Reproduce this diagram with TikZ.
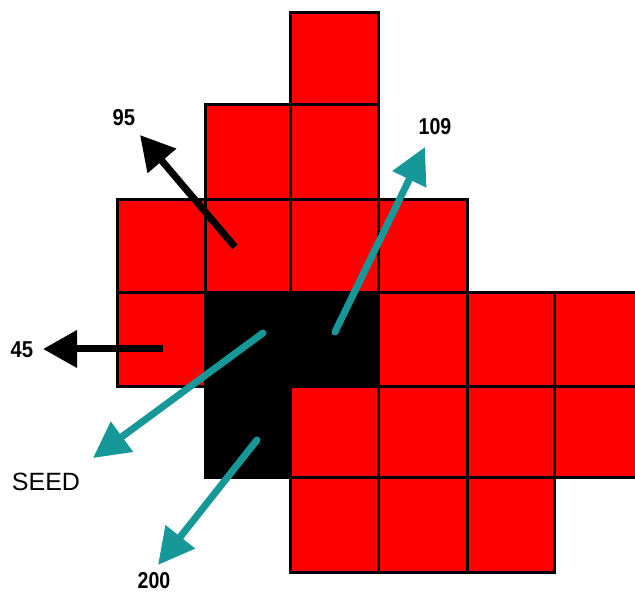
\documentclass[tikz,border=0pt]{standalone}
\usepackage{fontspec}
\setmainfont{Liberation Sans}
\usetikzlibrary{arrows.meta}
\definecolor{cellred}{RGB}{255,0,0}
\definecolor{teal}{RGB}{22,152,152}
\tikzset{
  redcell/.style={fill=cellred,draw=black,line width=3pt},
  blackcell/.style={fill=black,draw=black,line width=3pt},
  blackarrow/.style={draw=black,line width=7pt,-{Triangle[length=34pt,width=36pt]}},
  tealarrow/.style={draw=teal,line width=7pt,line cap=round,-{Triangle[length=36pt,width=36pt]}},
  numlabel/.style={font=\fontsize{23}{26}\selectfont\bfseries,inner sep=0pt},
  seedlabel/.style={font=\fontsize{25}{28}\selectfont,inner sep=0pt}
}
\begin{document}
\begin{tikzpicture}[x=1pt,y=-1pt]
\useasboundingbox (0,0) rectangle (635,593);
\begin{scope}
\clip (0,0) rectangle (635,593);
% column edges: 117 205 290 378 467 554 635 ; row edges: 13 105 200 293 387 478 572
\def\cellat#1#2#3#4#5{\path[#5] (#1,#3) rectangle (#2,#4);}
% row 0
\cellat{290}{378}{13}{105}{redcell}
% row 1
\cellat{205}{290}{105}{200}{redcell}
\cellat{290}{378}{105}{200}{redcell}
% row 2
\cellat{117}{205}{200}{293}{redcell}
\cellat{205}{290}{200}{293}{redcell}
\cellat{290}{378}{200}{293}{redcell}
\cellat{378}{467}{200}{293}{redcell}
% row 3
\cellat{117}{205}{293}{387}{redcell}
\cellat{205}{290}{293}{387}{blackcell}
\cellat{290}{378}{293}{387}{blackcell}
\cellat{378}{467}{293}{387}{redcell}
\cellat{467}{554}{293}{387}{redcell}
\cellat{554}{640}{293}{387}{redcell}
% row 4
\cellat{205}{290}{387}{478}{blackcell}
\cellat{290}{378}{387}{478}{redcell}
\cellat{378}{467}{387}{478}{redcell}
\cellat{467}{554}{387}{478}{redcell}
\cellat{554}{640}{387}{478}{redcell}
% row 5
\cellat{290}{378}{478}{572}{redcell}
\cellat{378}{467}{478}{572}{redcell}
\cellat{467}{554}{478}{572}{redcell}
\end{scope}
% arrow end points
\coordinate (t95) at (235,247);
\coordinate (h95) at (140,135);
\coordinate (t45) at (163,349);
\coordinate (h45) at (43,349);
\coordinate (tseed) at (263,333);
\coordinate (hseed) at (93,458);
\coordinate (t200) at (257,440);
\coordinate (h200) at (158,565);
\coordinate (t109) at (335,332);
\coordinate (h109) at (425,147);
% arrows
\draw[blackarrow] (t95) -- (h95);
\draw[blackarrow] (t45) -- (h45);
\draw[tealarrow] (tseed) -- (hseed);
\draw[tealarrow] (t200) -- (h200);
\draw[tealarrow] (t109) -- (h109);
% labels
\node[numlabel] (l95) at (124,118) {\scalebox{0.88}[1]{95}};
\node[numlabel] (l45) at (22,350) {\scalebox{0.88}[1]{45}};
\node[numlabel] (l109) at (435,127) {\scalebox{0.85}[1]{109}};
\node[numlabel] (l200) at (154,581) {\scalebox{0.85}[1]{200}};
\node[seedlabel] (lseed) at (46,482) {SEED};
\end{tikzpicture}
\end{document}
